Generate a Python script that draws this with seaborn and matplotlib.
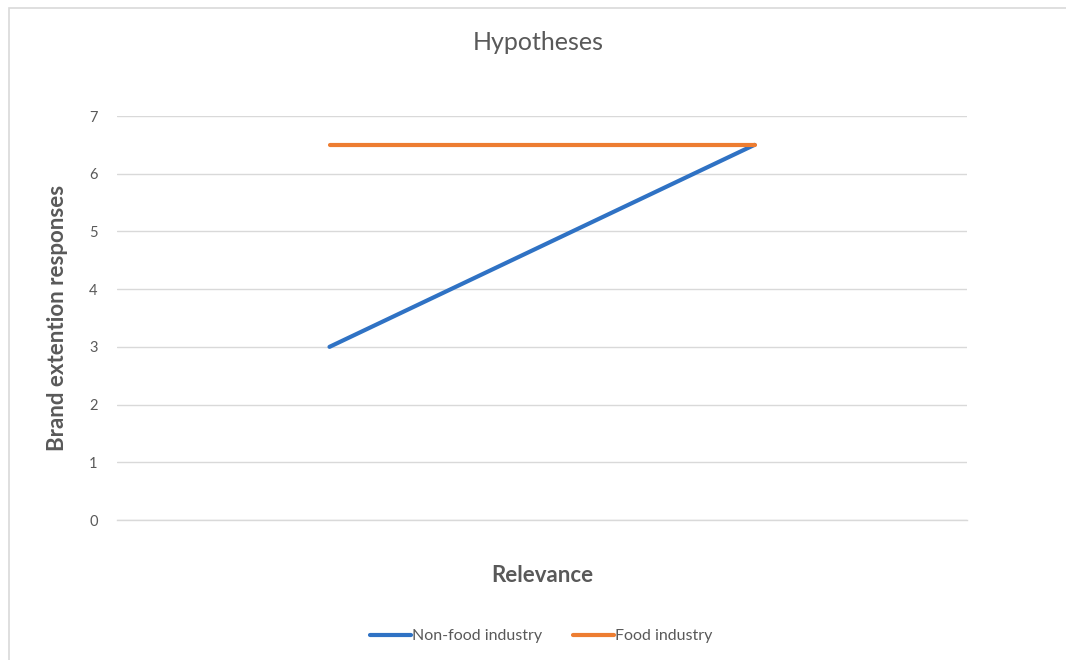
import matplotlib
matplotlib.use("Agg")
import matplotlib.pyplot as plt
from matplotlib.patches import Rectangle
import seaborn as sns
import pandas as pd

# Relevance levels on the x axis (shown without tick text)
categories = ["Low relevance", "High relevance"]
non_food = [3.0, 6.5]
food = [6.5, 6.5]
series_names = ["Non-food industry", "Food industry"]
y_ticks = [0, 1, 2, 3, 4, 5, 6, 7]

df = pd.DataFrame({
    "Relevance": categories * 2,
    "Response": non_food + food,
    "Series": [series_names[0]] * len(categories) + [series_names[1]] * len(categories),
})

sns.set_theme(style="white")
plt.rcParams["font.family"] = ["Lato", "DejaVu Sans"]

TEXT = "#595959"
BLUE = "#2f72c4"
ORANGE = "#ed7d31"
fig = plt.figure(figsize=(10.66, 6.6), dpi=100)
ax = fig.add_axes([117 / 1066, 1 - 520 / 660, 850 / 1066, 404 / 660])

sns.lineplot(
    data=df, x="Relevance", y="Response", hue="Series",
    palette={series_names[0]: BLUE, series_names[1]: ORANGE},
    linewidth=3, ax=ax, legend=False, sort=False,
)

ax.set_xlim(-0.5, len(categories) - 0.5)
ax.set_ylim(0, 7)
ax.set_yticks(y_ticks)
ax.set_yticklabels([str(t) for t in y_ticks])
ax.set_xticks(range(len(categories)))
ax.set_xticklabels([""] * len(categories))
ax.yaxis.grid(True, color="#d9d9d9", linewidth=1)
ax.xaxis.grid(False)
for s in ["top", "right", "left"]:
    ax.spines[s].set_visible(False)
ax.spines["bottom"].set_color("#d9d9d9")
ax.spines["bottom"].set_linewidth(1)
ax.tick_params(axis="y", length=0, pad=14, labelsize=10.5, labelcolor=TEXT)
ax.tick_params(axis="x", length=0)

ax.set_xlabel("Relevance", fontsize=16, fontweight="bold", color=TEXT)
ax.xaxis.label.set_va("center")
ax.xaxis.set_label_coords(0.5, -(576 - 520) / 404)
ax.set_ylabel("Brand extention responses", fontsize=16, fontweight="bold", color=TEXT)
ax.yaxis.label.set_va("center")
ax.yaxis.set_label_coords(-(117 - 58) / 850, (520 - 318) / 404)

fig.text(538 / 1066, 1 - 42 / 660, "Hypotheses", ha="center", va="center",
         fontsize=18, color=TEXT)

handles = [plt.Line2D([], [], color=c, linewidth=3) for c in [BLUE, ORANGE]]
fig.legend(handles, series_names, loc="center", bbox_to_anchor=(541 / 1066, 1 - 636 / 660),
           ncol=2, frameon=False, fontsize=11.5, handlelength=2.6, handletextpad=0.05,
           columnspacing=1.9, labelcolor=TEXT)

# chart area outline
fig.patches.append(Rectangle((9 / 1066, -0.05), 1.2, 1 - 8 / 660 + 0.05,
                             transform=fig.transFigure, fill=False,
                             edgecolor="#d9d9d9", linewidth=1.2))

fig.savefig("out.png", dpi=100)
